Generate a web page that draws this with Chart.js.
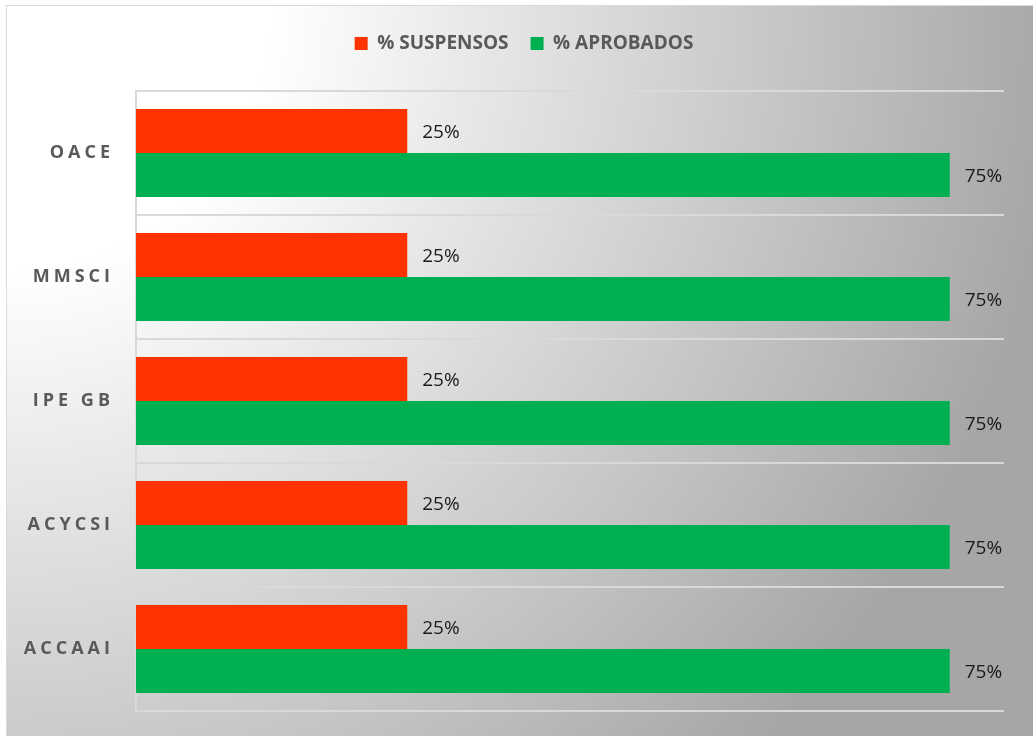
<!DOCTYPE html>
<html lang="es">
<head>
<meta charset="utf-8">
<title>% Suspensos / % Aprobados</title>
<script src="https://cdn.jsdelivr.net/npm/chart.js@4"></script>
<style>
    html, body { margin: 0; padding: 0; background: #ffffff; }
    #wrap { position: relative; width: 1033px; height: 736px; }
</style>
</head>
<body>
<div id="wrap"><canvas id="chart" width="1033" height="736"></canvas></div>
<script>
// subjects, top to bottom
const subjects = ['OACE', 'MMSCI', 'IPE GB', 'ACYCSI', 'ACCAAI'];
const failedPct = [25, 25, 25, 25, 25];
const passedPct = [75, 75, 75, 75, 75];

const FONT = "'Open Sans', 'DejaVu Sans', sans-serif";

// category axis whose labels get extra letter spacing
class SpacedCategoryScale extends Chart.CategoryScale {
    static id = 'spacedCategory';
    static defaults = Chart.CategoryScale.defaults;
    drawLabels(chartArea) {
        const ctx = this.ctx;
        ctx.save();
        ctx.letterSpacing = '4px';
        super.drawLabels(chartArea);
        ctx.restore();
    }
}
Chart.register(SpacedCategoryScale);

// grey radial fade from the top-left corner + thin frame
const backdrop = {
    id: 'backdrop',
    beforeDraw(chart) {
        const ctx = chart.ctx;
        const w = chart.width, h = chart.height;
        ctx.save();
        ctx.fillStyle = '#ffffff';
        ctx.fillRect(0, 0, w, h);
        const g = ctx.createRadialGradient(6, 5, 0, 6, 5, 1060);
        g.addColorStop(0, '#ffffff');
        g.addColorStop(0.25, '#ffffff');
        g.addColorStop(1, '#a6a6a6');
        ctx.fillStyle = g;
        ctx.fillRect(6, 5, w - 6, h - 5);
        ctx.strokeStyle = '#d9d9d9';
        ctx.lineWidth = 1;
        ctx.strokeRect(6.5, 5.5, w, h);
        ctx.restore();
    }
};

// "25%" style labels just past the end of each bar
const valueLabels = {
    id: 'valueLabels',
    afterDatasetsDraw(chart) {
        const ctx = chart.ctx;
        ctx.save();
        ctx.font = `19px ${FONT}`;
        ctx.fillStyle = '#1a1a1a';
        ctx.textAlign = 'left';
        ctx.textBaseline = 'middle';
        chart.data.datasets.forEach((ds, i) => {
            const meta = chart.getDatasetMeta(i);
            meta.data.forEach((bar, j) => {
                ctx.fillText(`${ds.data[j]}%`, bar.x + 15, bar.y + 2);
            });
        });
        ctx.restore();
    }
};

new Chart(document.getElementById('chart').getContext('2d'), {
    type: 'bar',
    data: {
        labels: subjects,
        datasets: [
            {
                label: '% SUSPENSOS',
                data: failedPct,
                yAxisID: 'y',
                backgroundColor: '#ff3300',
                borderWidth: 0,
                categoryPercentage: 0.71,
                barPercentage: 1,
            },
            {
                label: '% APROBADOS',
                data: passedPct,
                yAxisID: 'y',
                backgroundColor: '#00b050',
                borderWidth: 0,
                categoryPercentage: 0.71,
                barPercentage: 1,
            },
        ],
    },
    options: {
        indexAxis: 'y',
        responsive: false,
        animation: false,
        layout: { padding: { top: 12, right: 0, bottom: 25, left: 15 } },
        plugins: {
            tooltip: { enabled: false },
            legend: {
                position: 'top',
                labels: {
                    boxWidth: 13,
                    boxHeight: 13,
                    padding: 22,
                    color: '#595959',
                    font: { family: FONT, size: 19, weight: 'bold' },
                },
            },
        },
        scales: {
            x: {
                position: 'top',
                min: 0,
                max: 80,
                ticks: { display: false },
                grid: { display: false },
                border: { display: false },
                afterFit: (scale) => { scale.height = 28; },
            },
            y: {
                type: 'spacedCategory',
                position: 'left',
                grid: { color: '#d9d9d9', lineWidth: 2, drawTicks: false, offset: true },
                border: { color: '#d9d9d9', width: 2 },
                ticks: {
                    padding: 22,
                    color: '#595959',
                    font: { family: FONT, size: 18, weight: 'bold' },
                },
                afterFit: (scale) => {
                    scale.width = 121;
                    // labels sit mid-band, no need to reserve room above/below
                    scale.paddingTop = 0;
                    scale.paddingBottom = 0;
                },
            },
            // empty strip on the right so the plot stops short of the frame
            yRight: {
                type: 'category',
                position: 'right',
                ticks: { display: false },
                grid: { display: false },
                border: { display: false },
                afterFit: (scale) => { scale.width = 29; },
            },
        },
    },
    plugins: [backdrop, valueLabels],
});
</script>
</body>
</html>
